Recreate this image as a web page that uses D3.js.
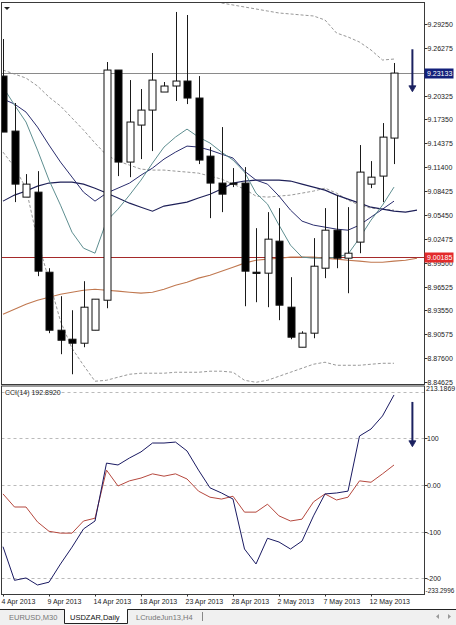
<!DOCTYPE html>
<html><head><meta charset="utf-8">
<script src="https://cdn.jsdelivr.net/npm/d3@7"></script>
<style>
body{margin:0;background:#fff;overflow:hidden;}
svg{display:block;}
text{font-family:"Liberation Sans",Arial,sans-serif;}
</style>
</head><body><svg id="c" width="456" height="625"></svg>
<script>
// ---------- DATA ----------
const dates = ["4 Apr 2013","5 Apr 2013","7 Apr 2013","8 Apr 2013","9 Apr 2013","10 Apr 2013","11 Apr 2013","12 Apr 2013","14 Apr 2013","15 Apr 2013","16 Apr 2013","17 Apr 2013","18 Apr 2013","19 Apr 2013","21 Apr 2013","22 Apr 2013","23 Apr 2013","24 Apr 2013","25 Apr 2013","26 Apr 2013","28 Apr 2013","29 Apr 2013","30 Apr 2013","1 May 2013","2 May 2013","3 May 2013","5 May 2013","6 May 2013","7 May 2013","8 May 2013","9 May 2013","10 May 2013","12 May 2013","13 May 2013","14 May 2013"];
const open  = [9.2276,9.1590,9.0767,9.0829,8.9831,8.9108,8.8996,8.8946,8.9108,8.9482,9.2351,9.1204,9.1665,9.1852,9.2077,9.2152,9.2214,9.2002,9.1278,9.0942,9.0942,9.0942,8.9831,8.9819,9.0218,8.9395,8.8896,8.9071,8.9881,9.0355,9.0006,9.0206,9.0929,9.1029,9.1503];
const high  = [9.2738,9.1940,9.1054,9.1091,8.9881,8.9532,8.9357,8.9719,8.9495,9.2451,9.2351,9.2226,9.2114,9.2563,9.2202,9.3075,9.3037,9.2276,9.1391,9.1640,9.1129,9.1141,9.0380,9.0580,9.0630,8.9769,8.9095,9.0256,9.0630,9.0792,9.0642,9.1416,9.1216,9.1690,9.2439];
const low   = [9.1578,9.0705,9.0767,8.9782,8.9071,8.8809,8.8559,8.8896,8.9108,8.9382,9.1029,9.1016,9.1241,9.1341,9.2077,9.1965,9.1927,9.1179,9.0505,9.0580,9.0892,8.9407,8.9457,8.9395,8.9233,8.8996,8.8896,8.9008,8.9757,8.9881,8.9569,9.0068,9.0879,9.0705,9.1179];
const close = [9.1578,9.0929,9.0929,8.9844,8.9108,8.8983,8.8946,8.9395,8.9495,9.2351,9.1204,9.1703,9.1852,9.2226,9.2152,9.2214,9.2002,9.1229,9.0942,9.0804,9.0930,8.9844,8.9831,9.0243,8.9420,8.9021,8.9071,8.9906,9.0355,9.0006,9.0068,9.1079,9.1016,9.1515,9.23133];

const maSlow = [9.0717,9.0792,9.0842,9.0904,9.0942,9.0954,9.0954,9.0929,9.0879,9.0817,9.0755,9.0692,9.0642,9.0592,9.0655,9.0680,9.0705,9.0755,9.0804,9.0867,9.0942,9.0967,9.0979,9.0979,9.0979,9.0967,9.0929,9.0892,9.0854,9.0792,9.0742,9.0692,9.0642,9.0617,9.0592,9.0580,9.0605];
const maMid  = [9.1990,9.1927,9.1827,9.1640,9.1416,9.1204,9.1017,9.0829,9.0717,9.0817,9.0879,9.0942,9.1041,9.1129,9.1241,9.1328,9.1403,9.1391,9.1353,9.1303,9.1254,9.1091,9.0979,9.0929,9.0780,9.0605,9.0468,9.0418,9.0393,9.0368,9.0355,9.0418,9.0518,9.0617,9.0717];
const maFast = [9.2139,9.1915,9.1703,9.1353,9.0979,9.0667,9.0330,9.0131,9.0068,9.0468,9.0617,9.0792,9.0979,9.1191,9.1391,9.1516,9.1615,9.1516,9.1441,9.1328,9.1229,9.1079,9.0817,9.0680,9.0418,9.0168,9.0019,9.0006,9.0006,9.0019,9.0056,9.0256,9.0480,9.0667,9.0892];
const maLong = [8.9308,8.9370,8.9432,8.9482,8.9520,8.9557,8.9582,8.9607,8.9619,8.9607,8.9595,8.9582,8.9570,8.9582,8.9619,8.9669,8.9707,8.9757,8.9794,8.9844,8.9894,8.9944,8.9981,8.9994,9.0006,9.0019,9.0019,9.0019,9.0006,8.9994,8.9981,8.9969,8.9956,8.9956,8.9969,8.9981,9.0006];

const bbUpper  = [null,null,null,null,null,null,null,null,null,null,null,null,null,null,null,null,null,null,null,9.3187,9.3162,9.3137,9.3112,9.3087,9.3062,9.3050,9.3037,9.3025,9.2975,9.2813,9.2763,9.2700,9.2601,9.2476,9.2488];
const bbMiddle = [9.2351,9.2301,9.2251,9.2152,9.2014,9.1902,9.1753,9.1603,9.1441,9.1291,9.1216,9.1166,9.1116,9.1104,9.1104,9.1091,9.1079,9.1066,9.1029,9.0992,9.0929,9.0867,9.0780,9.0767,9.0780,9.0792,9.0817,9.0842,9.0879,9.0817,9.0730,9.0667,9.0630,9.0617,9.0605];
const bbLower  = [9.1328,9.1141,9.0879,9.0231,8.9732,8.9220,8.8883,8.8671,8.8472,8.8484,8.8522,8.8559,8.8572,8.8572,8.8572,8.8584,8.8584,8.8584,8.8597,8.8597,8.8584,8.8484,8.8459,8.8484,8.8534,8.8584,8.8634,8.8684,8.8709,8.8671,8.8671,8.8671,8.8684,8.8696,8.8696];

const cciMain   = [-132,-204,-199,-214,-208,-169,-133,-94,-77,47,43,58,71,90,90,92,73,32,-6,-17,-30,-137,-169,-114,-122,-137,-120,-66,-19,-17,-13,105,120,148,192.892];
const cciSignal = [-19,-47,-47,-79,-99,-103,-103,-77,-71,32,-2,9,15,24,19,24,13,-13,-26,-30,-24,-58,-58,-41,-66,-77,-73,-36,-19,-32,-26,9,6,24,43];

const priceTicks = ["9.29250","9.26275","9.20325","9.17350","9.14375","9.11400","9.08425","9.05450","9.02475","8.99500","8.96525","8.93550","8.90575","8.87600","8.84625"];
const cciLevels = [200,100,0,-100,-200];
const cciTickLabels = ["100","0.00","-100","-200"];
const cciTickValues = [100,0,-100,-200];
const cciRange = [-233.2996, 213.1869];
const lastPrice = 9.23133;
const refLevel = 9.00185;
const tabs = ["EURUSD,M30","USDZAR,Daily","LCrudeJun13,H4"];
const priceArrow = [9.2610, 9.2080]; // annotation arrow (from, to) at bar 35.6
const cciArrow = [178, 82];

// ---------- LAYOUT ----------
const svg = d3.select("#c");
const L = 1.5, R = 424.5, mainTop = 2.5, mainBot = 384.5, cciTop = 386, cciBot = 594.5;
const x = d3.scaleLinear().domain([0, 34]).range([3, 394]);
const y = d3.scaleLinear().domain([8.84625, 9.29250]).range([382, 24]);
const yc = d3.scaleLinear().domain(cciRange).range([594, 385.5]);

const defs = svg.append("defs");
defs.append("clipPath").attr("id","cm").append("rect").attr("x",L).attr("y",mainTop).attr("width",R-L).attr("height",mainBot-mainTop);
defs.append("clipPath").attr("id","cc").append("rect").attr("x",L).attr("y",cciTop).attr("width",R-L).attr("height",cciBot-cciTop);

const gm = svg.append("g").attr("clip-path","url(#cm)");
const gc = svg.append("g").attr("clip-path","url(#cc)");

// horizontal level lines
gm.append("line").attr("x1",L).attr("x2",R).attr("y1",Math.round(y(lastPrice))+0.5).attr("y2",Math.round(y(lastPrice))+0.5).attr("stroke","#8a8a8a").attr("stroke-width",1);
gm.append("line").attr("x1",L).attr("x2",R).attr("y1",Math.round(y(refLevel))+0.5).attr("y2",Math.round(y(refLevel))+0.5).attr("stroke","#a52a2a").attr("stroke-width",1.2);

const line = (arr, ys) => d3.line().defined(d => d != null).x((d,i)=>x(i)).y(d=>ys(d))(arr);

// bollinger dashed
[bbUpper,bbMiddle,bbLower].forEach(a=>{
  gm.append("path").attr("d",line(a,y)).attr("fill","none").attr("stroke","#8c8c8c").attr("stroke-width",0.9).attr("stroke-dasharray","3,2");
});
// moving averages
gm.append("path").attr("d",line(maLong,y)).attr("fill","none").attr("stroke","#c07850").attr("stroke-width",1.1);
gm.append("path").attr("d",line(maSlow,y)).attr("fill","none").attr("stroke","#1e2058").attr("stroke-width",1.1);
gm.append("path").attr("d",line(maMid,y)).attr("fill","none").attr("stroke","#2a2d6e").attr("stroke-width",1);
gm.append("path").attr("d",line(maFast,y)).attr("fill","none").attr("stroke","#5e8e90").attr("stroke-width",1);

// candles
const idx = d3.range(open.length);
const cg = gm.append("g");
idx.forEach(i=>{
  const cx = Math.round(x(i)) + 0.5;
  cg.append("line").attr("x1",cx).attr("x2",cx).attr("y1",y(high[i])).attr("y2",y(low[i])).attr("stroke","#1a1a1a").attr("stroke-width",1);
  const top = y(Math.max(open[i],close[i])), bot = y(Math.min(open[i],close[i]));
  const bull = close[i] > open[i];
  const h = Math.max(bot-top, 1.2);
  cg.append("rect").attr("x",cx-3.5).attr("y",top).attr("width",7).attr("height",h)
    .attr("fill", bull ? "#fff" : "#000").attr("stroke","#111").attr("stroke-width",1);
});

// arrow annotation
function arrow(g, xv, y1, y2){
  g.append("line").attr("x1",xv).attr("x2",xv).attr("y1",y1).attr("y2",y2-4).attr("stroke","#1b2160").attr("stroke-width",2);
  g.append("path").attr("d",`M${xv-3.5},${y2-6}L${xv},${y2}L${xv+3.5},${y2-6}Z`).attr("fill","#1b2160").attr("stroke","#1b2160").attr("stroke-width",0.8);
}
arrow(svg, x(35.6), y(priceArrow[0]), y(priceArrow[1]));

// small marker top-left
svg.append("path").attr("d","M4,7L10,7L7,10Z").attr("fill","#222");

// ---------- CCI ----------
cciLevels.forEach(v=>{
  gc.append("line").attr("x1",L).attr("x2",R).attr("y1",Math.round(yc(v))+0.5).attr("y2",Math.round(yc(v))+0.5)
    .attr("stroke","#a8a8a8").attr("stroke-width",0.8).attr("stroke-dasharray","3,3");
});
gc.append("path").attr("d",line(cciSignal,yc)).attr("fill","none").attr("stroke","#b5483e").attr("stroke-width",1);
gc.append("path").attr("d",line(cciMain,yc)).attr("fill","none").attr("stroke","#1a1a62").attr("stroke-width",1);
arrow(svg, x(35.6), yc(cciArrow[0]), yc(cciArrow[1]));
svg.append("text").attr("x",5).attr("y",395).attr("font-size",7).attr("fill","#222").text("CCI(14) " + cciMain[cciMain.length-1].toFixed(4));

// ---------- FRAMES ----------
svg.append("rect").attr("x",L).attr("y",mainTop).attr("width",R-L).attr("height",mainBot-mainTop).attr("fill","none").attr("stroke","#3a3a3a").attr("stroke-width",1);
svg.append("rect").attr("x",L).attr("y",cciTop).attr("width",R-L).attr("height",cciBot-cciTop).attr("fill","none").attr("stroke","#3a3a3a").attr("stroke-width",1);

// price axis
const ax = svg.append("g");
priceTicks.forEach(t=>{
  const yy = Math.round(y(+t))+0.5;
  ax.append("line").attr("x1",R).attr("x2",R+3).attr("y1",yy).attr("y2",yy).attr("stroke","#333");
  ax.append("text").attr("x",427.5).attr("y",yy+2.5).attr("font-size",7).attr("fill","#222").text(t);
});
function tag(v, fill){
  const yy = Math.round(y(v))+0.5;
  ax.append("rect").attr("x",R).attr("y",yy-5).attr("width",29).attr("height",10).attr("fill",fill);
  ax.append("text").attr("x",427).attr("y",yy+2.5).attr("font-size",7).attr("fill","#fff").text(v.toFixed(5));
}
tag(lastPrice, "#13207a");
tag(refLevel, "#e32b2b");

// cci axis
cciTickValues.forEach((v,k)=>{
  const yy = Math.round(yc(v))+0.5;
  ax.append("line").attr("x1",R).attr("x2",R+3).attr("y1",yy).attr("y2",yy).attr("stroke","#333");
  ax.append("text").attr("x",427).attr("y",yy+2.5).attr("font-size",7).attr("fill","#222").text(cciTickLabels[k]);
});
ax.append("text").attr("x",426).attr("y",yc(cciRange[1])+5.5).attr("font-size",7).attr("fill","#222").text(cciRange[1].toFixed(4));
ax.append("text").attr("x",425.5).attr("y",yc(cciRange[0])-1.5).attr("font-size",6.4).attr("fill","#222").text(cciRange[0].toFixed(4));

// date axis
idx.filter(i=>i%4===0).forEach(i=>{
  const xx = Math.round(x(i))+0.5;
  ax.append("line").attr("x1",xx).attr("x2",xx).attr("y1",cciBot).attr("y2",cciBot+2).attr("stroke","#333");
  ax.append("text").attr("x",xx-2).attr("y",604).attr("font-size",7).attr("fill","#222").text(dates[i]);
});

// ---------- TABS ----------
const tb = svg.append("g");
tb.append("rect").attr("x",0).attr("y",609).attr("width",456).attr("height",16).attr("fill","#f0f0f0");
tb.append("line").attr("x1",0).attr("x2",456).attr("y1",609.5).attr("y2",609.5).attr("stroke","#222");
tb.append("path").attr("d","M64.5,609.5V623.5H127.5V609.5").attr("fill","#fff").attr("stroke","#222");
tb.append("rect").attr("x",65).attr("y",609).attr("width",62).attr("height",14).attr("fill","#fff");
const tabX = [9, 70, 136];
tabs.forEach((t,k)=>{
  tb.append("text").attr("x",tabX[k]).attr("y",619.5).attr("font-size",7.5).attr("fill", k===1 ? "#111" : "#777").text(t);
});
tb.append("line").attr("x1",202.5).attr("x2",202.5).attr("y1",612).attr("y2",621).attr("stroke","#888");
tb.append("path").attr("d","M439,614L436,616.5L439,619Z").attr("fill","#999");
tb.append("path").attr("d","M448,614L451,616.5L448,619Z").attr("fill","#999");
</script>
</body></html>
